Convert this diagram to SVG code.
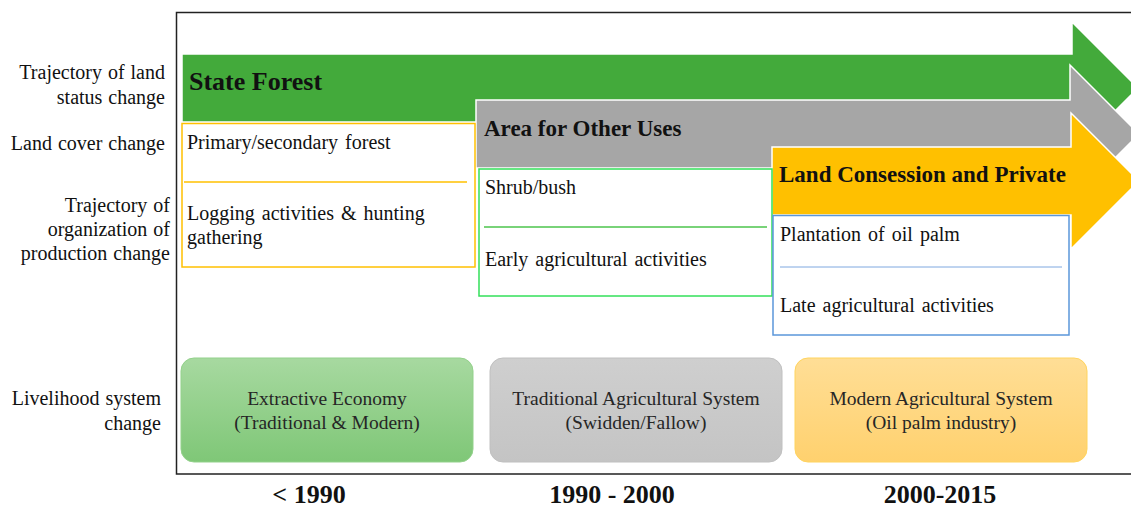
<svg xmlns="http://www.w3.org/2000/svg" width="1131" height="507" viewBox="0 0 1131 507">
<style>
text{font-family:"Liberation Serif","Times New Roman",serif;fill:#111}
.lab{font-size:20px;text-anchor:end;word-spacing:1px}
.bx{font-size:20px;word-spacing:2px}
.hd{font-weight:bold;font-size:23px}
.yr{font-weight:bold;font-size:26px;text-anchor:middle}
.lv{font-size:19.5px;text-anchor:middle;fill:#262626}
.arr{stroke:#fff;stroke-width:1.5}
</style>
<defs>
<linearGradient id="gG" x1="0" y1="0" x2="0" y2="1"><stop offset="0" stop-color="#A7D9A0"/><stop offset="1" stop-color="#7FC777"/></linearGradient>
<linearGradient id="gY" x1="0" y1="0" x2="0" y2="1"><stop offset="0" stop-color="#CFCFCF"/><stop offset="1" stop-color="#C4C4C4"/></linearGradient>
<linearGradient id="gO" x1="0" y1="0" x2="0" y2="1"><stop offset="0" stop-color="#FFDE96"/><stop offset="1" stop-color="#FFD16E"/></linearGradient>
</defs>
<rect width="1131" height="507" fill="#fff"/>
<path d="M1131 12.5H176.5V474H1131" fill="none" stroke="#222" stroke-width="1.5"/>

<g id="labels">
<text class="lab" x="165" y="79">Trajectory of land</text>
<text class="lab" x="165" y="104">status change</text>
<text class="lab" x="165" y="150">Land cover change</text>
<text class="lab" x="170" y="212">Trajectory of</text>
<text class="lab" x="170" y="236">organization of</text>
<text class="lab" x="170" y="260">production change</text>
<text class="lab" x="161" y="405">Livelihood system</text>
<text class="lab" x="161" y="430">change</text>
</g>

<g id="arrow-state-forest">
<polygon class="arr" fill="#43AA3B" points="182,54 1072,54 1072,22 1138,88 1072,154 1072,122 182,122"/>
<text class="hd" x="189" y="90" style="font-size:26px">State Forest</text>
</g>
<g id="arrow-other-uses">
<polygon class="arr" fill="#A6A6A6" points="476,100 1070,100 1070,65 1139,134 1070,203 1070,168 476,168"/>
<text class="hd" x="484" y="136">Area for Other Uses</text>
</g>
<g id="arrow-concession">
<polygon class="arr" fill="#FFC000" points="772,147 1071,147 1071,113 1139,181 1071,249 1071,215 772,215"/>
<text class="hd" x="779" y="182">Land Consession and Private</text>
</g>

<g id="box-forest">
<rect x="182" y="123.5" width="293" height="143.5" fill="#fff" stroke="#FFC000" stroke-width="1.5"/>
<line x1="184" y1="182" x2="467" y2="182" stroke="#FFC000" stroke-width="1.5"/>
<text class="bx" x="187" y="149">Primary/secondary  forest</text>
<text class="bx" x="187" y="220">Logging activities &amp; hunting</text>
<text class="bx" x="187" y="244">gathering</text>
</g>
<g id="box-shrub">
<rect x="479" y="169" width="293" height="127" fill="#fff" stroke="#33E05A" stroke-width="1.5"/>
<line x1="484" y1="227" x2="767" y2="227" stroke="#4CC44C" stroke-width="1.5"/>
<text class="bx" x="485" y="194">Shrub/bush</text>
<text class="bx" x="485" y="266">Early agricultural activities</text>
</g>
<g id="box-palm">
<rect x="773" y="215.5" width="296" height="119.5" fill="#fff" stroke="#5B97DA" stroke-width="1.5"/>
<line x1="780" y1="267" x2="1062" y2="267" stroke="#7FA8E0" stroke-width="1"/>
<text class="bx" x="780" y="241">Plantation of oil palm</text>
<text class="bx" x="780" y="312">Late agricultural activities</text>
</g>

<g id="liv-extractive">
<rect x="181" y="358" width="292" height="104" rx="13" fill="url(#gG)" stroke="#93D18B" stroke-width="1"/>
<text class="lv" x="327" y="405">Extractive Economy</text>
<text class="lv" x="327" y="429">(Traditional &amp; Modern)</text>
</g>
<g id="liv-traditional">
<rect x="490" y="358" width="292" height="104" rx="13" fill="url(#gY)" stroke="#C0C0C0" stroke-width="1"/>
<text class="lv" x="636" y="405">Traditional Agricultural System</text>
<text class="lv" x="636" y="429">(Swidden/Fallow)</text>
</g>
<g id="liv-modern">
<rect x="795" y="358" width="292" height="104" rx="13" fill="url(#gO)" stroke="#FFD45E" stroke-width="1"/>
<text class="lv" x="941" y="405">Modern Agricultural System</text>
<text class="lv" x="941" y="429">(Oil palm industry)</text>
</g>

<g id="years">
<text class="yr" x="309" y="503">&lt; 1990</text>
<text class="yr" x="612" y="503">1990 - 2000</text>
<text class="yr" x="940" y="503">2000-2015</text>
</g>
</svg>
